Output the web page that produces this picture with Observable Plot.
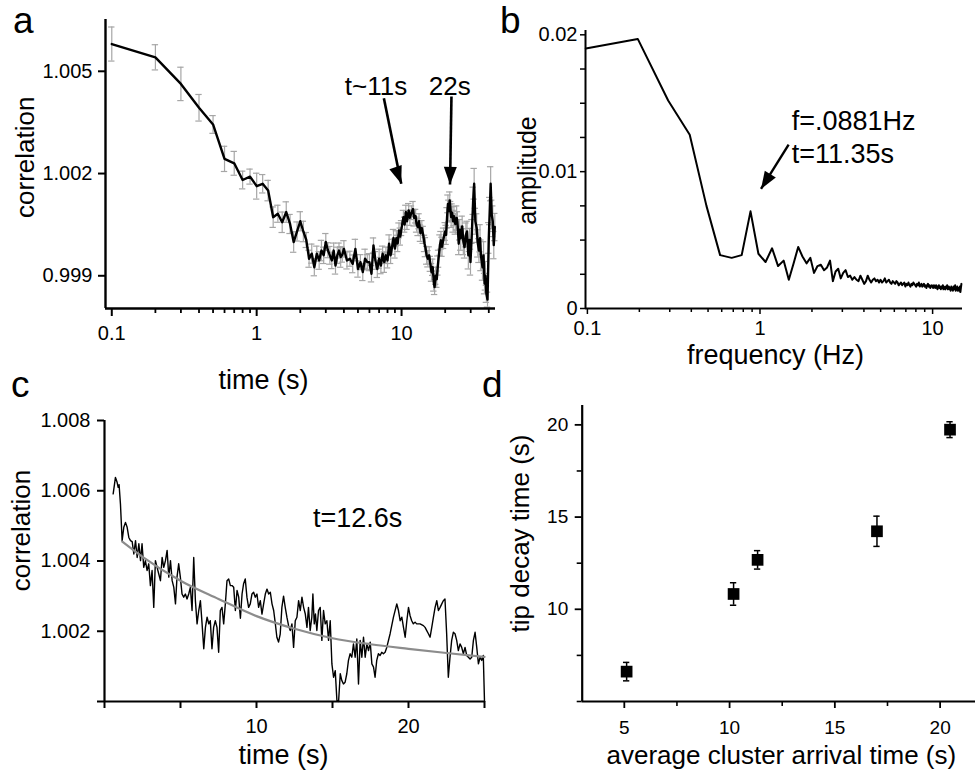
<!DOCTYPE html>
<html><head><meta charset="utf-8">
<script src="https://cdn.jsdelivr.net/npm/d3@7"></script>
<script src="https://cdn.jsdelivr.net/npm/@observablehq/plot@0.6"></script>
<style>
html,body{margin:0;padding:0;background:#fff;}
#fig{position:relative;width:975px;height:776px;overflow:hidden;background:#fff;font-family:'Liberation Sans',Arial,Helvetica,sans-serif;color:#000;}
.letter{position:absolute;font-size:37px;line-height:1.117;}
</style></head><body>
<div id="fig">
<div class="letter" style="left:13px;top:0px">a</div>
<div class="letter" style="left:500px;top:0px">b</div>
<div class="letter" style="left:11px;top:364px">c</div>
<div class="letter" style="left:482px;top:364px">d</div>
</div>
<script>
// ---------- Panel a: correlation vs time (log) ----------
const aTime = [
0.1,0.2,0.3,0.4,0.5,0.6,0.7,0.8,0.9,1.0,
1.1,1.2,1.3,1.4,1.5,1.6,1.7,1.8,1.9,2.0,
2.1,2.2,2.3,2.4,2.5,2.6,2.7,2.8,2.9,3.0,
3.1,3.2,3.3,3.4,3.5,3.6,3.7,3.8,3.9,4.0,
4.2,4.4,4.6,4.8,5.0,5.2,5.4,5.6,5.8,6.0,
6.2,6.4,6.6,6.8,7.0,7.2,7.4,7.6,7.8,8.0,
8.2,8.4,8.6,8.8,9.0,9.2,9.4,9.6,9.8,10.0,
10.3,10.5,10.7,10.9,11.2,11.4,11.7,12.0,12.2,12.5,
12.7,13.0,13.2,13.5,13.8,14.1,14.4,14.6,14.9,15.2,
15.5,15.8,16.1,16.4,16.7,16.9,17.2,17.5,17.8,18.0,
18.4,18.7,19.0,19.5,20.0,20.3,20.6,20.9,21.2,21.5,
21.8,22.0,22.3,22.7,23.0,23.5,24.0,24.3,24.8,25.2,
25.6,26.2,26.7,27.2,27.8,28.3,28.9,29.4,29.9,30.6,
31.2,31.7,32.3,33.0,33.6,34.2,34.8,35.3,36.2,36.8,
37.4,37.9,38.5,39.2,40.0,40.6,41.2,41.9,42.6,43.3,
44.0];
const aCorr = [
1.00580,1.00541,1.00463,1.00393,1.00344,1.00243,1.00230,1.00181,1.00191,1.00163,
1.00170,1.00150,1.00072,1.00082,1.00057,1.00087,1.00052,0.99999,1.00030,1.00060,
1.00030,1.00005,0.99950,0.99965,0.99925,0.99965,0.99945,0.99974,0.99960,0.99999,
0.99975,0.99960,0.99945,0.99974,0.99930,0.99960,0.99974,0.99955,0.99962,0.99979,
0.99945,0.99950,0.99935,0.99979,0.99920,0.99940,0.99911,0.99950,0.99940,0.99940,
0.99906,0.99989,0.99945,0.99920,0.99950,0.99930,0.99965,0.99940,0.99960,0.99945,
0.99994,0.99960,0.99985,1.00011,0.99980,1.00010,0.99995,1.00033,1.00015,1.00040,
1.00072,1.00050,1.00087,1.00060,1.00092,1.00070,1.00085,1.00096,1.00070,1.00075,
1.00050,1.00043,1.00060,1.00025,1.00040,1.00020,0.99995,0.99984,0.99960,0.99950,
0.99960,0.99935,0.99910,0.99925,0.99880,0.99867,0.99900,0.99890,0.99930,0.99950,
0.99990,1.00004,0.99985,1.00010,1.00030,1.00020,1.00070,1.00111,1.00090,1.00121,
1.00090,1.00072,1.00085,1.00060,1.00075,1.00052,1.00070,1.00060,0.99994,1.00035,
1.00010,1.00045,1.00000,0.99984,1.00020,1.00030,0.99960,1.00005,0.99940,1.00030,
1.00120,1.00170,1.00060,1.00040,0.99995,0.99974,1.00010,0.99960,0.99925,0.99960,
0.99877,0.99900,0.99847,0.99830,1.00011,1.00090,1.00170,1.00080,1.00060,0.99990,
1.00043];
const aErr = [
0.00050,0.00037,0.00049,0.00039,0.00026,0.00037,0.00035,0.00026,0.00022,0.00038,
0.00027,0.00030,0.00030,0.00025,0.00030,0.00030,0.00028,0.00030,0.00028,0.00028,
0.00030,0.00022,0.00025,0.00028,0.00025,0.00022,0.00026,0.00030,0.00024,0.00025,
0.00022,0.00026,0.00024,0.00022,0.00025,0.00024,0.00022,0.00030,0.00022,0.00024,
0.00025,0.00022,0.00026,0.00028,0.00024,0.00022,0.00025,0.00028,0.00022,0.00025,
0.00024,0.00022,0.00026,0.00025,0.00028,0.00024,0.00022,0.00030,0.00024,0.00022,
0.00026,0.00024,0.00022,0.00025,0.00028,0.00022,0.00024,0.00022,0.00025,0.00022,
0.00020,0.00022,0.00020,0.00024,0.00020,0.00022,0.00020,0.00022,0.00024,0.00020,
0.00022,0.00025,0.00022,0.00024,0.00022,0.00025,0.00024,0.00028,0.00026,0.00024,
0.00025,0.00022,0.00026,0.00024,0.00025,0.00022,0.00025,0.00024,0.00028,0.00025,
0.00030,0.00026,0.00028,0.00030,0.00026,0.00028,0.00030,0.00026,0.00032,0.00025,
0.00028,0.00030,0.00026,0.00032,0.00028,0.00030,0.00035,0.00028,0.00032,0.00030,
0.00035,0.00030,0.00038,0.00032,0.00035,0.00030,0.00040,0.00034,0.00038,0.00035,
0.00040,0.00045,0.00038,0.00042,0.00040,0.00035,0.00040,0.00045,0.00038,0.00040,
0.00030,0.00042,0.00025,0.00022,0.00045,0.00040,0.00050,0.00042,0.00045,0.00040,
0.00040];
const aTicksX = [0.1, 1, 10];
const aMinorTicksX = [0.2,0.3,0.4,0.5,0.6,0.7,0.8,0.9,2,3,4,5,6,7,8,9,20,30,40];
const aTicksY = [0.999, 1.002, 1.005];
const aNotes = [{x: 6.67, y: 1.00455, label: "t~11s"}, {x: 21.5, y: 1.00455, label: "22s"}];
const aArrows = [{x1: 7.55, y1: 1.00421, x2: 9.95, y2: 1.00170, angle: 161},
                 {x1: 22.1, y1: 1.00426, x2: 21.6, y2: 1.00168, angle: 181}];
const aXLabel = "time (s)", aYLabel = "correlation";

// ---------- Panel b: amplitude spectrum ----------
const bFreqStep = 0.0979; // Hz between spectrum bins
const bAmp = [
0.0190,0.0197,0.0152,0.0127,0.0075,0.0039,0.0037,0.0039,0.0071,0.0040,
0.0034,0.0044,0.0031,0.0035,0.0021,0.0033,0.0045,0.0038,0.0033,0.0037,
0.0026,0.0031,0.0032,0.0028,0.0030,0.0035,0.0020,0.0027,0.0029,0.0022,
0.0026,0.0028,0.0023,0.0024,0.0021,0.0023,0.0021,0.0020,0.0024,0.0021,
0.0018,0.0020,0.0024,0.0021,0.0019,0.0021,0.0022,0.0020,0.0021,0.0019,
0.0021,0.0019,0.0020,0.0022,0.0019,0.0020,0.0021,0.0019,0.0018,0.0020,
0.0019,0.0018,0.0020,0.0019,0.0017,0.0018,0.0019,0.0017,0.0018,0.0019,
0.0016,0.0018,0.0017,0.0019,0.0017,0.0016,0.0018,0.0017,0.0019,0.0018,
0.0017,0.0016,0.0018,0.0017,0.0019,0.0016,0.0017,0.0018,0.0016,0.0017,
0.0018,0.0016,0.0017,0.0015,0.0017,0.0018,0.0016,0.0017,0.0015,0.0016,
0.0017,0.0016,0.0015,0.0017,0.0016,0.0015,0.0017,0.0016,0.0014,0.0016,
0.0017,0.0015,0.0016,0.0014,0.0016,0.0015,0.0017,0.0014,0.0016,0.0015,
0.0014,0.0016,0.0015,0.0017,0.0014,0.0015,0.0016,0.0014,0.0015,0.0013,
0.0016,0.0014,0.0015,0.0013,0.0016,0.0014,0.0015,0.0017,0.0013,0.0015,
0.0014,0.0016,0.0013,0.0015,0.0014,0.0013,0.0016,0.0012,0.0015,0.0018];
const bTicksX = [0.1, 1, 10];
const bMinorTicksX = [0.2,0.3,0.4,0.5,0.6,0.7,0.8,0.9,2,3,4,5,6,7,8,9];
const bTicksY = [0,0.0025,0.005,0.0075,0.01,0.0125,0.015,0.0175,0.02];
const bTickText = {0: "0", 0.01: "0.01", 0.02: "0.02"};
const bNotes = [{x: 1.526, y: 0.01368, label: "f=.0881Hz"}, {x: 1.526, y: 0.011266, label: "t=11.35s"}];
const bArrows = [{x1: 1.465, y1: 0.011975, x2: 1.0134, y2: 0.008734, angle: 212}];
const bXLabel = "frequency (Hz)", bYLabel = "amplitude";

// ---------- Panel c: correlation vs time with fit ----------
const cTime = [
0.57,0.72,0.83,0.90,0.96,1.05,1.16,1.27,1.38,1.49,
1.60,1.71,1.82,1.93,2.04,2.15,2.26,2.37,2.47,2.58,
2.69,2.80,2.91,3.02,3.13,3.24,3.35,3.46,3.57,3.68,
3.79,3.90,4.01,4.12,4.23,4.34,4.45,4.56,4.67,4.77,
4.88,4.99,5.10,5.21,5.32,5.43,5.54,5.65,5.76,5.87,
5.98,6.09,6.20,6.31,6.42,6.53,6.64,6.75,6.86,6.96,
7.07,7.18,7.29,7.40,7.51,7.62,7.73,7.84,7.95,8.06,
8.17,8.28,8.39,8.50,8.61,8.72,8.83,8.94,9.05,9.15,
9.26,9.37,9.48,9.59,9.70,9.81,9.92,10.03,10.14,10.25,
10.36,10.47,10.58,10.69,10.80,10.91,11.02,11.13,11.24,11.34,
11.45,11.56,11.67,11.78,11.89,12.00,12.11,12.22,
12.33,12.44,12.55,12.66,12.77,12.88,12.99,13.10,13.21,13.32,
13.42,13.53,13.64,13.71,13.80,13.88,13.97,14.08,14.19,14.30,
14.41,14.52,14.63,14.74,14.85,14.96,15.07,15.18,15.29,15.40,
15.51,15.61,15.72,15.83,15.94,16.05,16.16,16.27,16.38,16.49,
16.60,16.71,16.82,16.93,17.04,17.15,17.26,17.37,17.48,17.59,
17.70,17.80,17.91,18.02,18.13,18.24,18.35,18.46,18.57,18.79,
19.01,19.23,19.34,19.45,19.56,19.67,19.78,19.89,20.00,20.10,
20.21,20.32,20.43,20.54,20.76,20.98,21.09,21.20,21.31,21.42,
21.53,21.64,21.75,21.86,21.97,22.08,22.19,22.29,22.40,22.51,
22.62,22.73,22.84,22.95,23.06,23.17,23.28,23.39,23.50,23.61,
23.72,23.83,23.94,24.05,24.16,24.27,24.38,24.49,24.60,24.71,
24.82,24.92,25.00];
const cCorr = [
1.00591,1.00638,1.00624,1.00610,1.00617,1.00562,1.00458,1.00496,1.00510,1.00496,
1.00467,1.00458,1.00455,1.00420,1.00458,1.00410,1.00449,1.00401,1.00449,1.00382,
1.00401,1.00373,1.00392,1.00330,1.00373,1.00268,1.00401,1.00382,1.00363,1.00344,
1.00410,1.00382,1.00401,1.00430,1.00354,1.00401,1.00344,1.00325,1.00278,1.00354,
1.00392,1.00354,1.00306,1.00297,1.00306,1.00292,1.00306,1.00325,1.00259,1.00410,
1.00287,1.00221,1.00259,1.00287,1.00221,1.00150,1.00211,1.00240,1.00221,1.00230,
1.00150,1.00211,1.00230,1.00211,1.00140,1.00259,1.00268,1.00221,1.00278,1.00344,
1.00349,1.00330,1.00330,1.00325,1.00259,1.00316,1.00297,1.00237,1.00306,1.00335,
1.00349,1.00297,1.00268,1.00278,1.00306,1.00311,1.00297,1.00306,1.00268,1.00287,
1.00249,1.00278,1.00306,1.00320,1.00306,1.00311,1.00278,1.00259,1.00221,1.00183,
1.00169,1.00192,1.00268,1.00300,1.00268,1.00240,1.00216,1.00202,
1.00221,1.00154,1.00230,1.00240,1.00287,1.00259,1.00297,1.00268,1.00249,1.00211,
1.00268,1.00202,1.00240,1.00306,1.00221,1.00249,1.00202,1.00259,1.00268,1.00174,
1.00259,1.00221,1.00230,1.00174,1.00230,1.00107,1.00069,1.00088,1.00003,1.00000,
1.00079,1.00060,1.00050,1.00055,1.00079,1.00117,1.00136,1.00126,1.00164,1.00126,
1.00178,1.00050,1.00174,1.00126,1.00183,1.00126,1.00164,1.00145,1.00169,1.00107,
1.00098,1.00069,1.00117,1.00136,1.00131,1.00140,1.00136,1.00140,1.00154,1.00193,
1.00240,1.00278,1.00259,1.00230,1.00240,1.00211,1.00183,1.00230,1.00268,1.00245,
1.00230,1.00221,1.00226,1.00221,1.00221,1.00216,1.00211,1.00202,1.00193,1.00183,
1.00211,1.00240,1.00268,1.00287,1.00259,1.00268,1.00278,1.00287,1.00292,1.00193,
1.00069,1.00126,1.00174,1.00197,1.00193,1.00174,1.00145,1.00164,1.00154,1.00136,
1.00154,1.00131,1.00126,1.00121,1.00126,1.00174,1.00197,1.00154,1.00107,1.00126,
1.00117,1.00131,1.00000];
const cFitTime = [1.17, 2.5, 5, 7.5, 10, 12.5, 15, 17.5, 20, 22.5, 25];
const cFitCorr = [1.00455, 1.00412, 1.00344, 1.00292, 1.00243, 1.00207, 1.00180, 1.00163, 1.00150, 1.00138, 1.00127];
const cTicksX = [0, 5, 10, 15, 20, 25];
const cLabeledX = [10, 20];
const cTicksY = [1.000, 1.002, 1.004, 1.006, 1.008];
const cNote = [{x: 16.65, y: 1.00521, label: "t=12.6s"}];
const cXLabel = "time (s)", cYLabel = "correlation";

// ---------- Panel d: tip decay vs arrival ----------
const dArrival = [5.11, 10.19, 11.33, 17.0, 20.47];
const dDecay = [6.62, 10.83, 12.68, 14.23, 19.74];
const dErr = [0.50, 0.61, 0.50, 0.82, 0.43];
const dTicksX = [5, 10, 15, 20];
const dMinorX = [7.5, 12.5, 17.5];
const dTicksY = [10, 15, 20];
const dMinorY = [5, 7.5, 12.5, 17.5];
const dXLabel = "average cluster arrival time (s)", dYLabel = "tip decay time (s)";

// ---------- drawing ----------
const FONT = "'Liberation Sans', Arial, Helvetica, sans-serif";
const fig = document.getElementById("fig");
function place(svg, left, top) {
  svg.style.position = "absolute";
  svg.style.left = left + "px";
  svg.style.top = top + "px";
  fig.appendChild(svg);
}
const svgStyle = (fs) => ({background: "transparent", overflow: "visible", fontFamily: FONT, fontSize: fs + "px", color: "black"});
const arrowHead = {draw(ctx, size) {
  const r = Math.sqrt(size / Math.PI);
  ctx.moveTo(0, 0); ctx.lineTo(-r, 2.7 * r); ctx.lineTo(r, 2.7 * r); ctx.closePath();
}};
const ident = d => d;
const xLabelMark = (label, dx, dy, fs) => Plot.text([label], {frameAnchor: "bottom", text: ident, textAnchor: "middle", lineAnchor: "middle", dx, dy, fontSize: fs});
const yLabelMark = (label, dx, dy, fs) => Plot.text([label], {frameAnchor: "left", text: ident, rotate: -90, textAnchor: "middle", lineAnchor: "middle", dx, dy, fontSize: fs});

// Panel a
const aRows = aTime.map((t, i) => ({t, v: aCorr[i], e: aErr[i]}));
const capA = Math.pow(10, 0.022);
const aXDom = [0.0905, 44.5], aYDom = [0.99804, 1.00652];
place(Plot.plot({
  width: 500, height: 390, marginTop: 19, marginRight: 5, marginBottom: 82, marginLeft: 105,
  style: svgStyle(20),
  x: {type: "log", domain: aXDom},
  y: {domain: aYDom},
  marks: [
    Plot.ruleX(aRows, {x: "t", y1: d => d.v - d.e, y2: d => d.v + d.e, stroke: "#a6a6a6", strokeWidth: 1.2}),
    Plot.ruleY(aRows, {y: d => d.v + d.e, x1: d => d.t / capA, x2: d => d.t * capA, stroke: "#a6a6a6", strokeWidth: 1.2}),
    Plot.ruleY(aRows, {y: d => d.v - d.e, x1: d => d.t / capA, x2: d => d.t * capA, stroke: "#a6a6a6", strokeWidth: 1.2}),
    Plot.line(aRows, {x: "t", y: "v", stroke: "black", strokeWidth: 2.4, strokeLinejoin: "round"}),
    Plot.ruleY([aYDom[0]], {stroke: "black", strokeWidth: 2.4}),
    Plot.ruleX([aXDom[0]], {stroke: "black", strokeWidth: 2.4}),
    Plot.axisX({ticks: aMinorTicksX, tickSize: 5, tickFormat: () => "", strokeWidth: 1.8, label: null}),
    Plot.axisX({ticks: aTicksX, tickSize: 8, tickPadding: 9, tickFormat: d => String(d), strokeWidth: 2, label: null}),
    Plot.axisY({ticks: aTicksY, tickSize: 7, tickPadding: 6, tickFormat: d3.format(".3f"), strokeWidth: 2, label: null}),
    Plot.link(aArrows, {x1: "x1", y1: "y1", x2: "x2", y2: "y2", stroke: "black", strokeWidth: 2.6}),
    Plot.dot(aArrows, {x: "x2", y: "y2", symbol: arrowHead, r: 6.5, fill: "black", stroke: "none", rotate: "angle"}),
    Plot.text(aNotes, {x: "x", y: "y", text: "label", textAnchor: "middle", lineAnchor: "middle", fontSize: 26}),
    xLabelMark(aXLabel, -37, 71.7, 27),
    yLabelMark(aYLabel, -80.3, -6.8, 26)
  ]
}), 0, 0);

// Panel b
const bRows = bAmp.map((a, i) => ({f: (i + 1) * bFreqStep, a}));
const bXDom = [0.0975, 14.9], bYDom = [0, 0.020315];
place(Plot.plot({
  width: 485, height: 380, marginTop: 30, marginRight: 13, marginBottom: 72, marginLeft: 95,
  style: svgStyle(20),
  x: {type: "log", domain: bXDom},
  y: {domain: bYDom},
  marks: [
    Plot.line(bRows, {x: "f", y: "a", stroke: "black", strokeWidth: 2, strokeLinejoin: "round"}),
    Plot.ruleY([bYDom[0]], {stroke: "black", strokeWidth: 2}),
    Plot.ruleX([bXDom[0]], {stroke: "black", strokeWidth: 2}),
    Plot.axisX({ticks: bMinorTicksX, tickSize: 4, tickFormat: () => "", strokeWidth: 1.5, label: null}),
    Plot.axisX({ticks: bTicksX, tickSize: 6, tickPadding: 6, tickFormat: d => String(d), strokeWidth: 1.5, label: null}),
    Plot.axisY({ticks: bTicksY, tickSize: 5, tickPadding: 3, tickFormat: d => bTickText[d] ?? "", strokeWidth: 1.5, label: null}),
    Plot.link(bArrows, {x1: "x1", y1: "y1", x2: "x2", y2: "y2", stroke: "black", strokeWidth: 2.4}),
    Plot.dot(bArrows, {x: "x2", y: "y2", symbol: arrowHead, r: 6.5, fill: "black", stroke: "none", rotate: "angle"}),
    Plot.text(bNotes, {x: "x", y: "y", text: "label", textAnchor: "start", lineAnchor: "middle", fontSize: 27}),
    xLabelMark(bXLabel, 1.5, 46.5, 27),
    yLabelMark(bYLabel, -58, 1, 25)
  ]
}), 490, 0);

// Panel c
const cRows = cTime.map((t, i) => ({t, v: cCorr[i]}));
const cFit = cFitTime.map((t, i) => ({t, v: cFitCorr[i]}));
const cXDom = [0, 25], cYDom = [1.000, 1.008];
place(Plot.plot({
  width: 490, height: 396, marginTop: 40, marginRight: 6, marginBottom: 75, marginLeft: 104,
  style: svgStyle(20),
  x: {domain: cXDom},
  y: {domain: cYDom},
  marks: [
    Plot.line(cRows, {x: "t", y: "v", stroke: "black", strokeWidth: 1.4, strokeLinejoin: "round"}),
    Plot.line(cFit, {x: "t", y: "v", stroke: "#8c8c8c", strokeWidth: 2.2, curve: "monotone-x"}),
    Plot.ruleY([cYDom[0]], {stroke: "black", strokeWidth: 2.2}),
    Plot.ruleX([cXDom[0]], {stroke: "black", strokeWidth: 2.2}),
    Plot.axisX({ticks: cTicksX, tickSize: 7, tickPadding: 10, tickFormat: d => cLabeledX.includes(d) ? String(d) : "", strokeWidth: 2, label: null}),
    Plot.axisY({ticks: cTicksY, tickSize: 7, tickPadding: 7, tickFormat: d => d === cYDom[0] ? "" : d.toFixed(3), strokeWidth: 2, label: null}),
    Plot.text(cNote, {x: "x", y: "y", text: "label", textAnchor: "middle", lineAnchor: "middle", fontSize: 27}),
    xLabelMark(cXLabel, -11, 53.4, 27),
    yLabelMark(cYLabel, -83, -30.5, 26)
  ]
}), 0, 380);

// Panel d
const dRows = dArrival.map((x, i) => ({x, y: dDecay[i], e: dErr[i]}));
const dXDom = [3.0, 21.68], dYDom = [5, 21.05];
place(Plot.plot({
  width: 485, height: 396, marginTop: 25, marginRight: 0, marginBottom: 75, marginLeft: 91.7,
  style: svgStyle(19),
  x: {domain: dXDom},
  y: {domain: dYDom},
  marks: [
    Plot.ruleX(dRows, {x: "x", y1: d => d.y - d.e, y2: d => d.y + d.e, stroke: "black", strokeWidth: 1.5}),
    Plot.ruleY(dRows, {y: d => d.y + d.e, x1: d => d.x - 0.15, x2: d => d.x + 0.15, stroke: "black", strokeWidth: 1.5}),
    Plot.ruleY(dRows, {y: d => d.y - d.e, x1: d => d.x - 0.15, x2: d => d.x + 0.15, stroke: "black", strokeWidth: 1.5}),
    Plot.dot(dRows, {x: "x", y: "y", symbol: "square", r: 6.6, fill: "black", stroke: "none"}),
    Plot.ruleY([dYDom[0]], {stroke: "black", strokeWidth: 2.2}),
    Plot.ruleX([dXDom[0]], {stroke: "black", strokeWidth: 2.2}),
    Plot.axisX({ticks: dMinorX, tickSize: 5, tickFormat: () => "", strokeWidth: 1.6, label: null}),
    Plot.axisX({ticks: dTicksX, tickSize: 7, tickPadding: 12, tickFormat: d => String(d), strokeWidth: 1.8, label: null}),
    Plot.axisY({ticks: dMinorY, tickSize: 5, tickFormat: () => "", strokeWidth: 1.6, label: null}),
    Plot.axisY({ticks: dTicksY, tickSize: 7, tickPadding: 7, tickFormat: d => String(d), strokeWidth: 1.8, label: null}),
    xLabelMark(dXLabel, 2.5, 53.7, 26),
    yLabelMark(dYLabel, -61.4, -20, 26)
  ]
}), 490, 380);
</script>
</body></html>
